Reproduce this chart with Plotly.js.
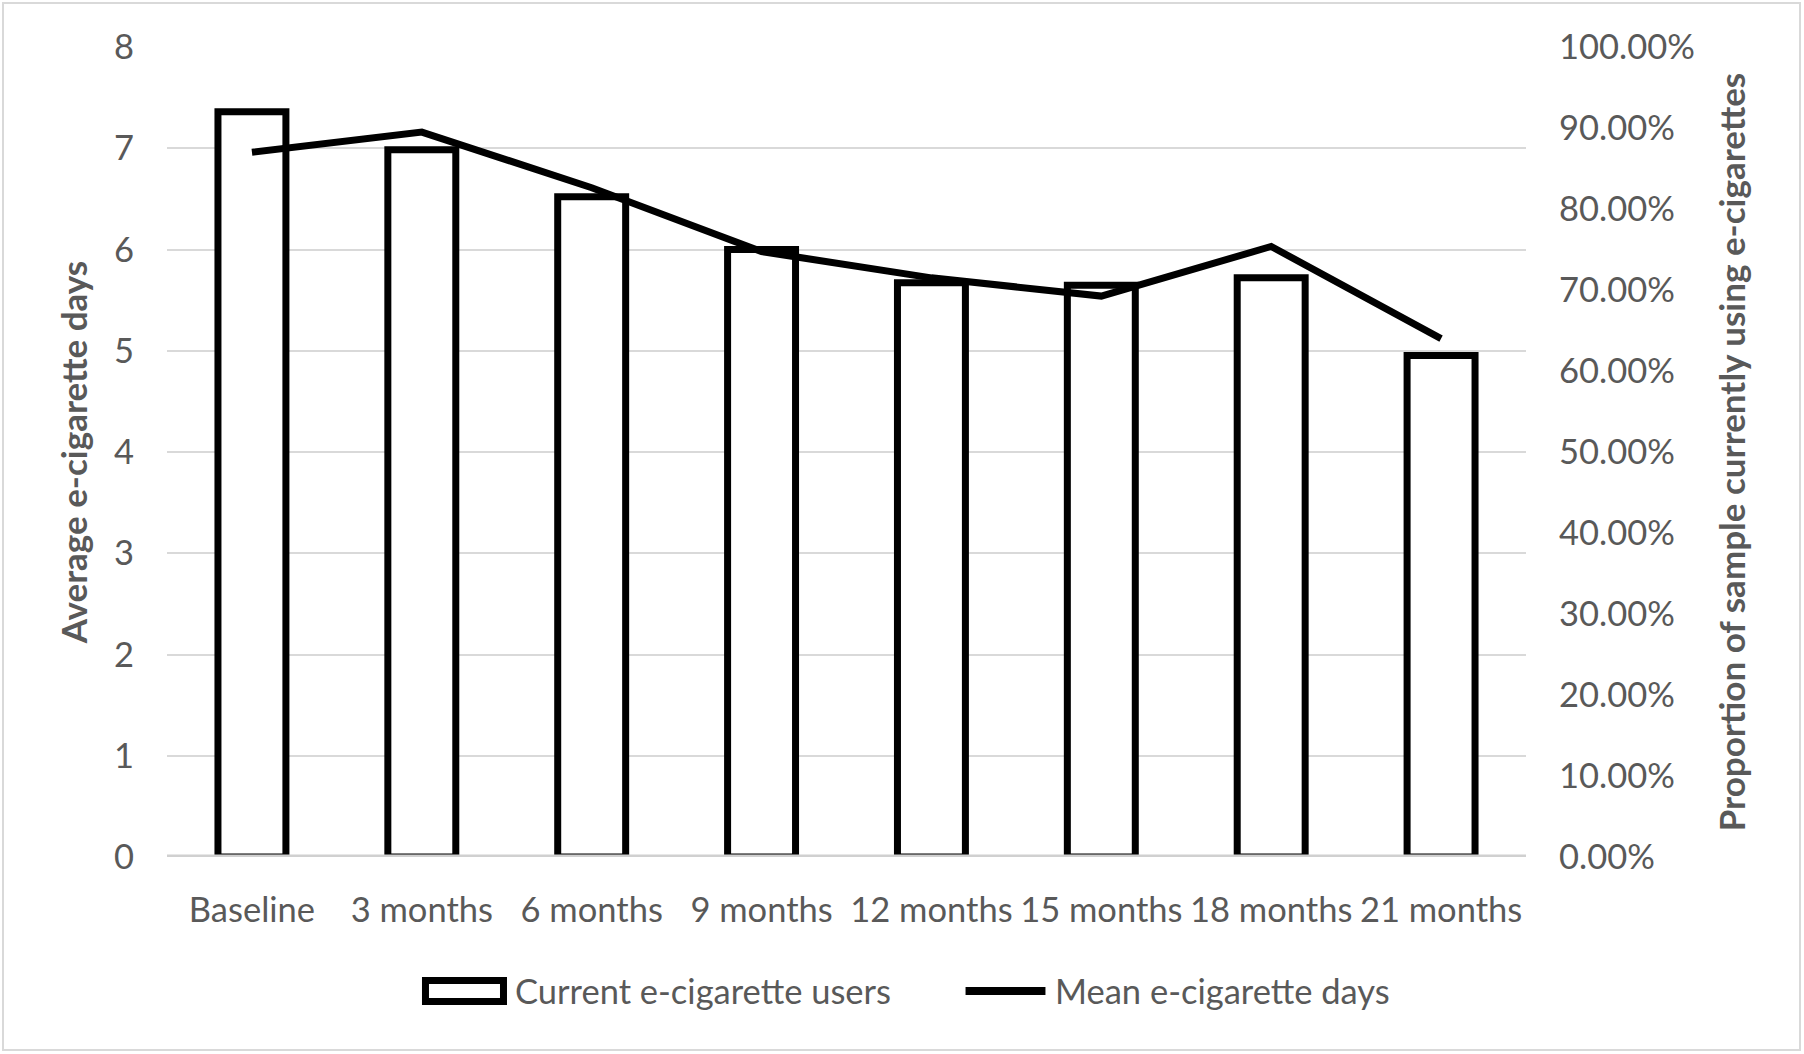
<!DOCTYPE html>
<html>
<head>
<meta charset="utf-8">
<script src="https://cdn.plot.ly/plotly-3.0.1.min.js"></script>
<style>
  html, body { margin: 0; padding: 0; background: #ffffff; }
  #wrap { position: relative; width: 1804px; height: 1054px; }
  #chart { position: absolute; left: 0; top: 0; width: 1804px; height: 1054px; }
  #frame { position: absolute; left: 2px; top: 2px; width: 1799px; height: 1049px;
           box-sizing: border-box; border: 2px solid #d9d9d9; pointer-events: none; }
</style>
</head>
<body>
<div id="wrap">
  <div id="chart"></div>
  <div id="frame"></div>
</div>
<script>
// ---- data ----
const categories = ['Baseline', '3 months', '6 months', '9 months', '12 months', '15 months', '18 months', '21 months'];
// proportion of sample currently using e-cigarettes (bars, right axis)
const currentUsers = [0.920, 0.873, 0.815, 0.750, 0.709, 0.706, 0.715, 0.619];
// mean e-cigarette days (line, left axis)
const meanDays = [6.96, 7.16, 6.61, 5.98, 5.72, 5.54, 6.03, 5.12];

const barName = 'Current e-cigarette users';
const lineName = 'Mean e-cigarette days';
const leftTitle = 'Average e-cigarette days';
const rightTitle = 'Proportion of sample currently using e-cigarettes';

const FONT = 'Lato, "Open Sans", sans-serif';
const GREY = '#595959';
const TICK = 34.5;
const TITLE = 35;

const traces = [
  {
    type: 'bar',
    name: barName,
    x: categories,
    y: currentUsers,
    yaxis: 'y',
    showlegend: false,
    marker: { color: '#ffffff', line: { color: '#000000', width: 7 } }
  },
  {
    type: 'scatter',
    mode: 'lines',
    name: lineName,
    x: categories,
    y: meanDays,
    yaxis: 'y2',
    showlegend: false,
    line: { color: '#000000', width: 7 }
  }
];

// custom legend (Excel-style wide swatches), placed in paper coordinates
const legendShapes = [
  { type: 'rect', xref: 'paper', yref: 'paper', x0: 0.1902, x1: 0.2476, y0: -0.1784, y1: -0.1525,
    fillcolor: '#ffffff', line: { color: '#000000', width: 7 }, layer: 'above' },
  { type: 'line', xref: 'paper', yref: 'paper', x0: 0.5876, x1: 0.6464, y0: -0.1654, y1: -0.1654,
    line: { color: '#000000', width: 8 }, layer: 'above' }
];
const legendTexts = [
  { text: barName, xref: 'paper', yref: 'paper', x: 0.2545, y: -0.1642, xanchor: 'left', yanchor: 'middle',
    showarrow: false, font: { family: FONT, size: TICK, color: GREY } },
  { text: lineName, xref: 'paper', yref: 'paper', x: 0.6519, y: -0.1642, xanchor: 'left', yanchor: 'middle',
    showarrow: false, font: { family: FONT, size: TICK, color: GREY } }
];

const layout = {
  width: 1804,
  height: 1054,
  margin: { l: 167, r: 278, t: 47, b: 197 },
  paper_bgcolor: '#ffffff',
  plot_bgcolor: '#ffffff',
  font: { family: FONT, color: GREY, size: TICK },
  showlegend: false,
  hovermode: false,
  bargap: 0.6,
  xaxis: {
    type: 'category',
    showgrid: false,
    zeroline: false,
    showline: false,
    ticks: '',
    ticklabelstandoff: 29,
    tickfont: { family: FONT, size: TICK, color: GREY }
  },
  yaxis: {
    side: 'right',
    range: [0, 1],
    dtick: 0.1,
    tick0: 0,
    tickformat: '.2%',
    showgrid: false,
    zeroline: false,
    showline: false,
    ticks: '',
    ticklabelstandoff: 32,
    tickfont: { family: FONT, size: TICK, color: GREY },
    title: { text: rightTitle, standoff: 26, font: { family: FONT, size: TITLE, color: GREY, weight: 'bold' } }
  },
  yaxis2: {
    overlaying: 'y',
    side: 'left',
    anchor: 'x',
    range: [0, 8],
    dtick: 1,
    tick0: 0,
    showgrid: true,
    gridcolor: '#d9d9d9',
    gridwidth: 2,
    zeroline: false,
    showline: false,
    ticks: '',
    ticklabelstandoff: 32,
    tickfont: { family: FONT, size: TICK, color: GREY },
    title: { text: leftTitle, standoff: 15, font: { family: FONT, size: TITLE, color: GREY, weight: 'bold' } }
  },
  shapes: [
    {
      type: 'line', xref: 'paper', x0: 0, x1: 1, yref: 'y', y0: 0, y1: 0,
      line: { color: '#d0d0d0', width: 5 }, layer: 'above'
    }
  ].concat(legendShapes),
  annotations: legendTexts
};

Plotly.newPlot('chart', traces, layout, { staticPlot: true, displayModeBar: false });
</script>
</body>
</html>
